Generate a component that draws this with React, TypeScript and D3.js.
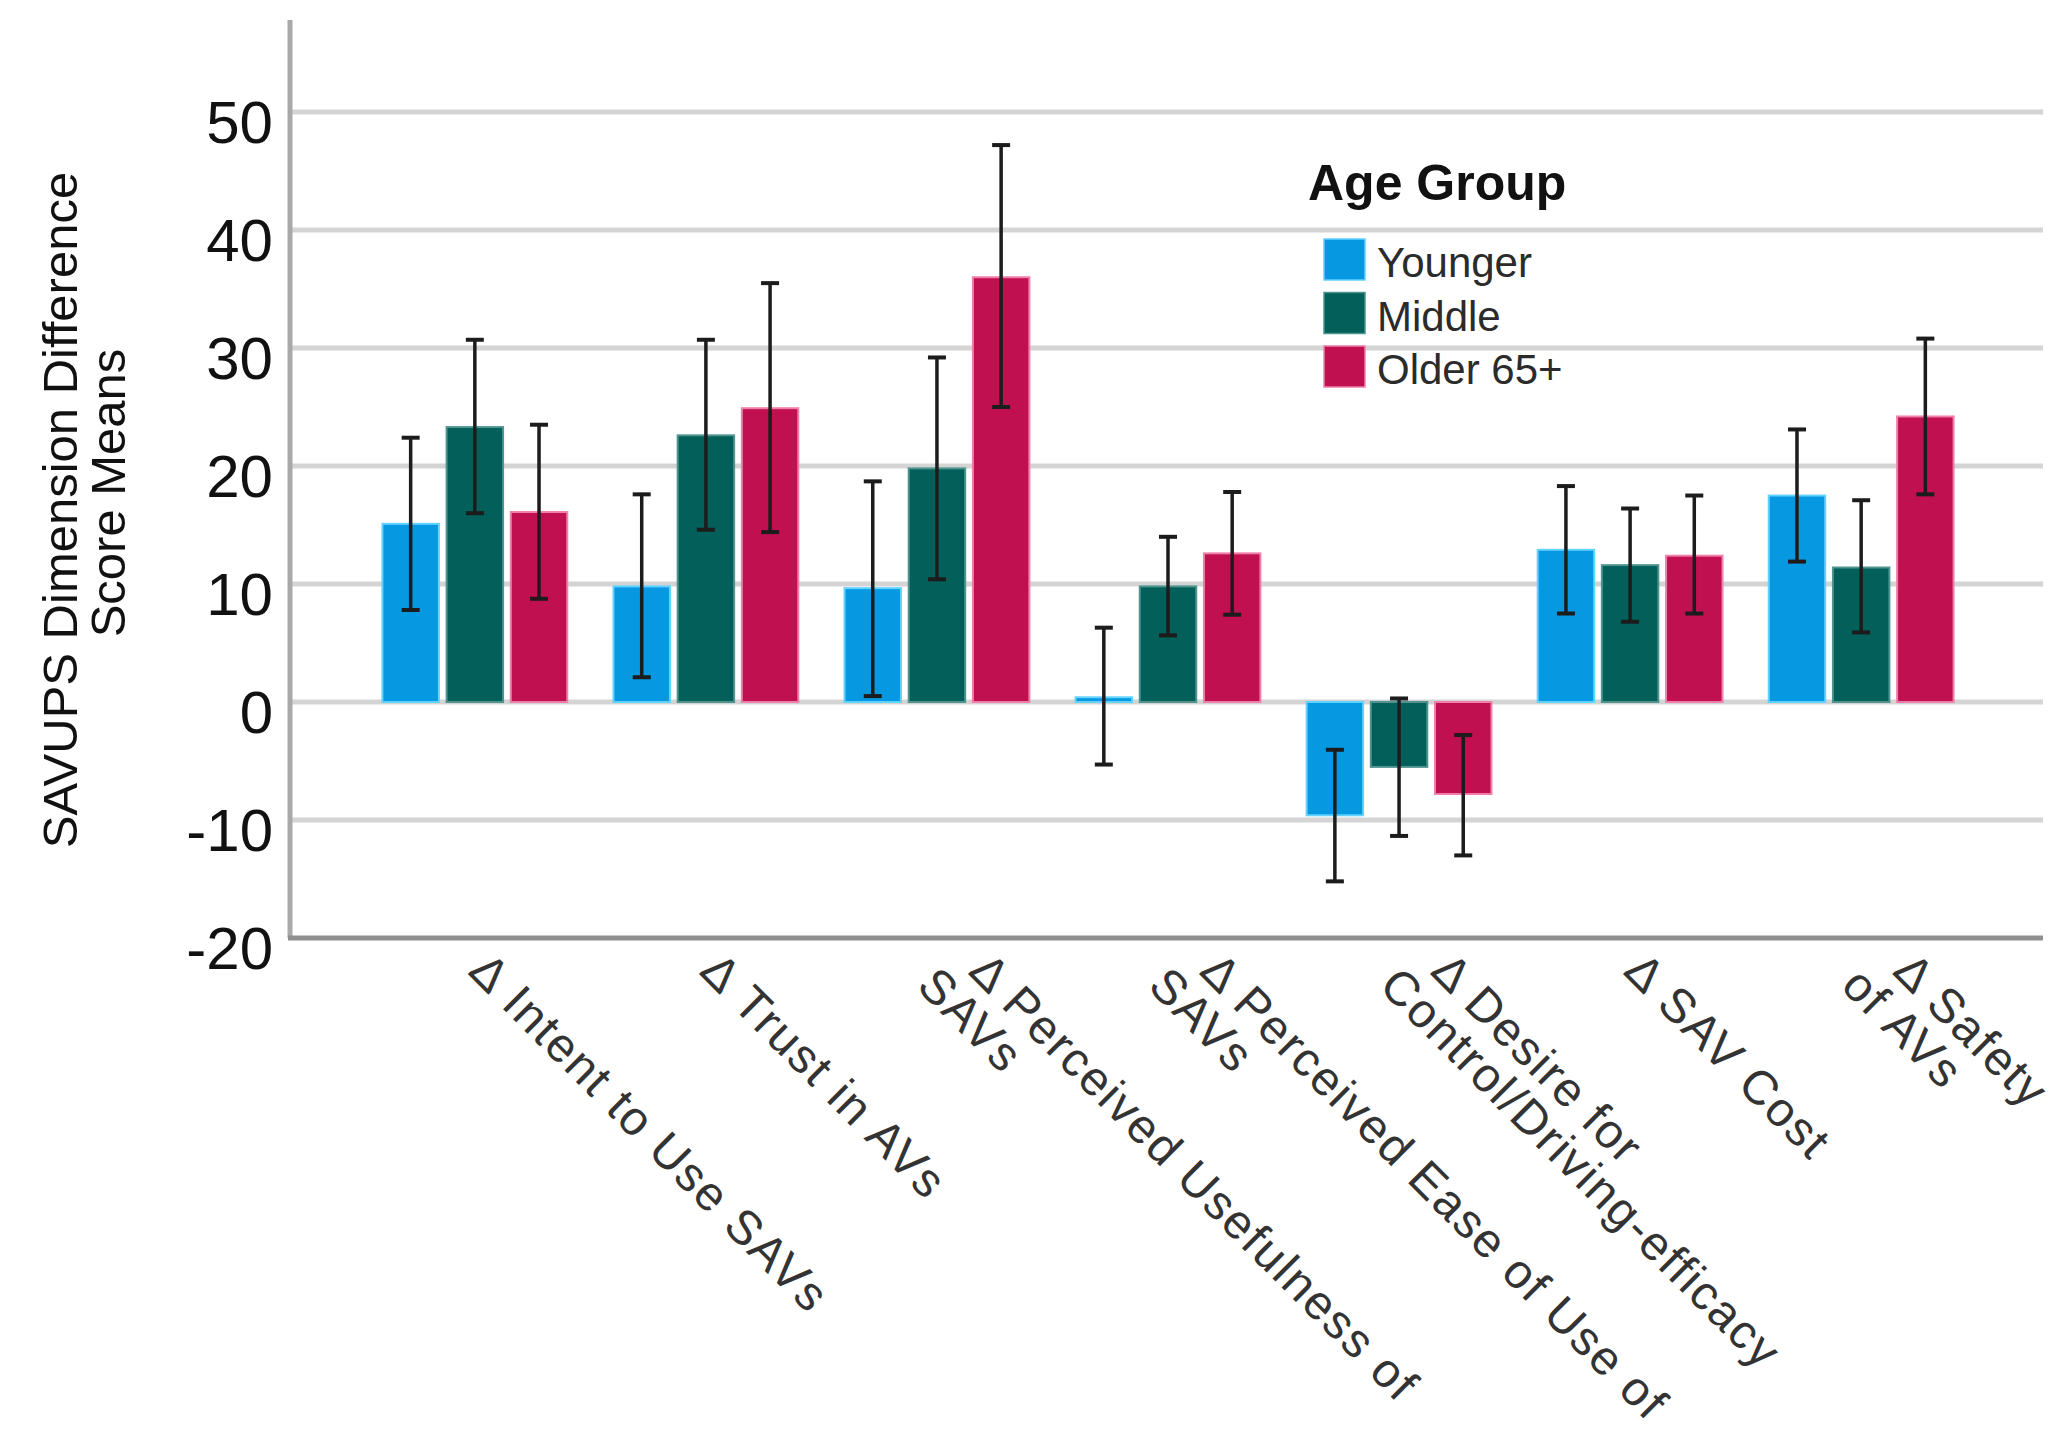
import React from 'react';
import * as d3 from 'd3';

// categories (x axis) and their wrapped tick labels
const categories = ['Intent', 'Trust', 'Usefulness', 'Ease', 'Control', 'Cost', 'Safety'];
const categoryLabels = [
  ['Δ Intent to Use SAVs'],
  ['Δ Trust in AVs'],
  ['Δ Perceived Usefulness of', 'SAVs'],
  ['Δ Perceived Ease of Use of', 'SAVs'],
  ['Δ Desire for', 'Control/Driving-efficacy'],
  ['Δ SAV Cost'],
  ['Δ Safety', 'of AVs'],
];

const groups = ['Younger', 'Middle', 'Older 65+'];
const groupColors = ['#0798e2', '#025f59', '#c0104f'];
const groupEdges = ['#62d2ff', '#4f948f', '#f080aa'];

// means and 95% CI bounds
const youngerMean = [15.1, 9.8, 9.65, 0.4, -9.6, 12.9, 17.5];
const youngerLow = [7.8, 2.1, 0.5, -5.3, -15.2, 7.5, 11.9];
const youngerHigh = [22.4, 17.6, 18.7, 6.3, -4.05, 18.3, 23.1];

const middleMean = [23.3, 22.6, 19.8, 9.8, -5.5, 11.6, 11.4];
const middleLow = [16.0, 14.6, 10.4, 5.65, -11.35, 6.8, 5.9];
const middleHigh = [30.7, 30.7, 29.2, 14.0, 0.3, 16.4, 17.1];

const olderMean = [16.1, 24.9, 36.0, 12.6, -7.8, 12.4, 24.2];
const olderLow = [8.75, 14.4, 25.0, 7.4, -13.0, 7.5, 17.6];
const olderHigh = [23.5, 35.5, 47.2, 17.8, -2.8, 17.5, 30.8];

const yTicks = [-20, -10, 0, 10, 20, 30, 40, 50];

const means = [youngerMean, middleMean, olderMean];
const lows = [youngerLow, middleLow, olderLow];
const highs = [youngerHigh, middleHigh, olderHigh];

const width = 2070;
const height = 1432;
const plotLeft = 290;
const plotRight = 2043;
const plotTop = 20;
const plotBottom = 938;

const font = '"Liberation Sans", Arial, sans-serif';

const App = () => {
  const x = d3.scaleBand().domain(categories).range([plotLeft, 2046]).paddingInner(0.2).paddingOuter(0.4);
  const xInner = d3.scaleBand().domain(groups).range([0, x.bandwidth()]).paddingInner(0.12);
  const y = d3.scaleLinear().domain([-20, 57.8]).range([plotBottom, plotTop]);
  const capW = 18;

  return (
    <div style={{ position: 'absolute', left: 0, top: 0 }}>
      <svg width={width} height={height} style={{ display: 'block', background: '#fff' }} fontFamily={font}>
        {/* gridlines */}
        {yTicks.filter(t => t > -20).map(t => (
          <line key={t} x1={plotLeft} x2={plotRight} y1={y(t)} y2={y(t)} stroke="#d4d4d4" strokeWidth={5} />
        ))}

        {/* bars */}
        {categories.map((c, ci) => (
          <g key={c} transform={`translate(${x(c)},0)`}>
            {groups.map((g, gi) => {
              const v = means[gi][ci];
              return (
                <rect
                  key={g}
                  x={xInner(g)}
                  y={Math.min(y(v), y(0))}
                  width={xInner.bandwidth()}
                  height={Math.abs(y(v) - y(0))}
                  fill={groupColors[gi]}
                  stroke={groupEdges[gi]}
                  strokeWidth={2}
                />
              );
            })}
          </g>
        ))}

        {/* error bars */}
        {categories.map((c, ci) => (
          <g key={c} transform={`translate(${x(c)},0)`} stroke="#1c1c1c" strokeWidth={3.5}>
            {groups.map((g, gi) => {
              const cx = (xInner(g) as number) + xInner.bandwidth() / 2;
              const lo = y(lows[gi][ci]);
              const hi = y(highs[gi][ci]);
              return (
                <g key={g}>
                  <line x1={cx} x2={cx} y1={hi} y2={lo} />
                  <line x1={cx - capW / 2} x2={cx + capW / 2} y1={hi} y2={hi} strokeWidth={4} />
                  <line x1={cx - capW / 2} x2={cx + capW / 2} y1={lo} y2={lo} strokeWidth={4} />
                </g>
              );
            })}
          </g>
        ))}

        {/* axes */}
        <line x1={plotLeft} x2={plotLeft} y1={plotTop} y2={plotBottom} stroke="#a9a9a9" strokeWidth={5} />
        <line x1={plotLeft - 2} x2={plotRight} y1={plotBottom} y2={plotBottom} stroke="#8f8f8f" strokeWidth={5} />

        {/* y tick labels */}
        {yTicks.map(t => (
          <text key={t} x={273} y={y(t) + 31} textAnchor="end" fontSize={60} fill="#111">
            {t}
          </text>
        ))}

        {/* y axis title */}
        <text transform="translate(77,510) rotate(-90)" textAnchor="middle" fontSize={49} fill="#111">
          SAVUPS Dimension Difference
        </text>
        <text transform="translate(125,493) rotate(-90)" textAnchor="middle" fontSize={49} fill="#111">
          Score Means
        </text>

        {/* x tick labels */}
        {categories.map((c, ci) => {
          const lines = categoryLabels[ci];
          const cx = (x(c) as number) + x.bandwidth() / 2;
          const dx = lines.length > 1 ? 30 : -8;
          return (
            <g key={c} transform={`translate(${cx + dx},${plotBottom + 35}) rotate(45)`}>
              {lines.map((l, li) => (
                <text key={li} x={-26 * li} y={47 * li} fontSize={48} letterSpacing={2} fill="#333">
                  {l}
                </text>
              ))}
            </g>
          );
        })}

        {/* legend */}
        <text x={1308} y={200} fontSize={50} fontWeight="bold" fill="#111">
          Age Group
        </text>
        {groups.map((g, gi) => (
          <g key={g} transform={`translate(1324,${239 + gi * 53.5})`}>
            <rect width={41} height={41} fill={groupColors[gi]} stroke={groupEdges[gi]} strokeWidth={1.5} />
            <text x={53} y={38} fontSize={42} fill="#2b2b2b">
              {g}
            </text>
          </g>
        ))}
      </svg>
    </div>
  );
};

export default App;
